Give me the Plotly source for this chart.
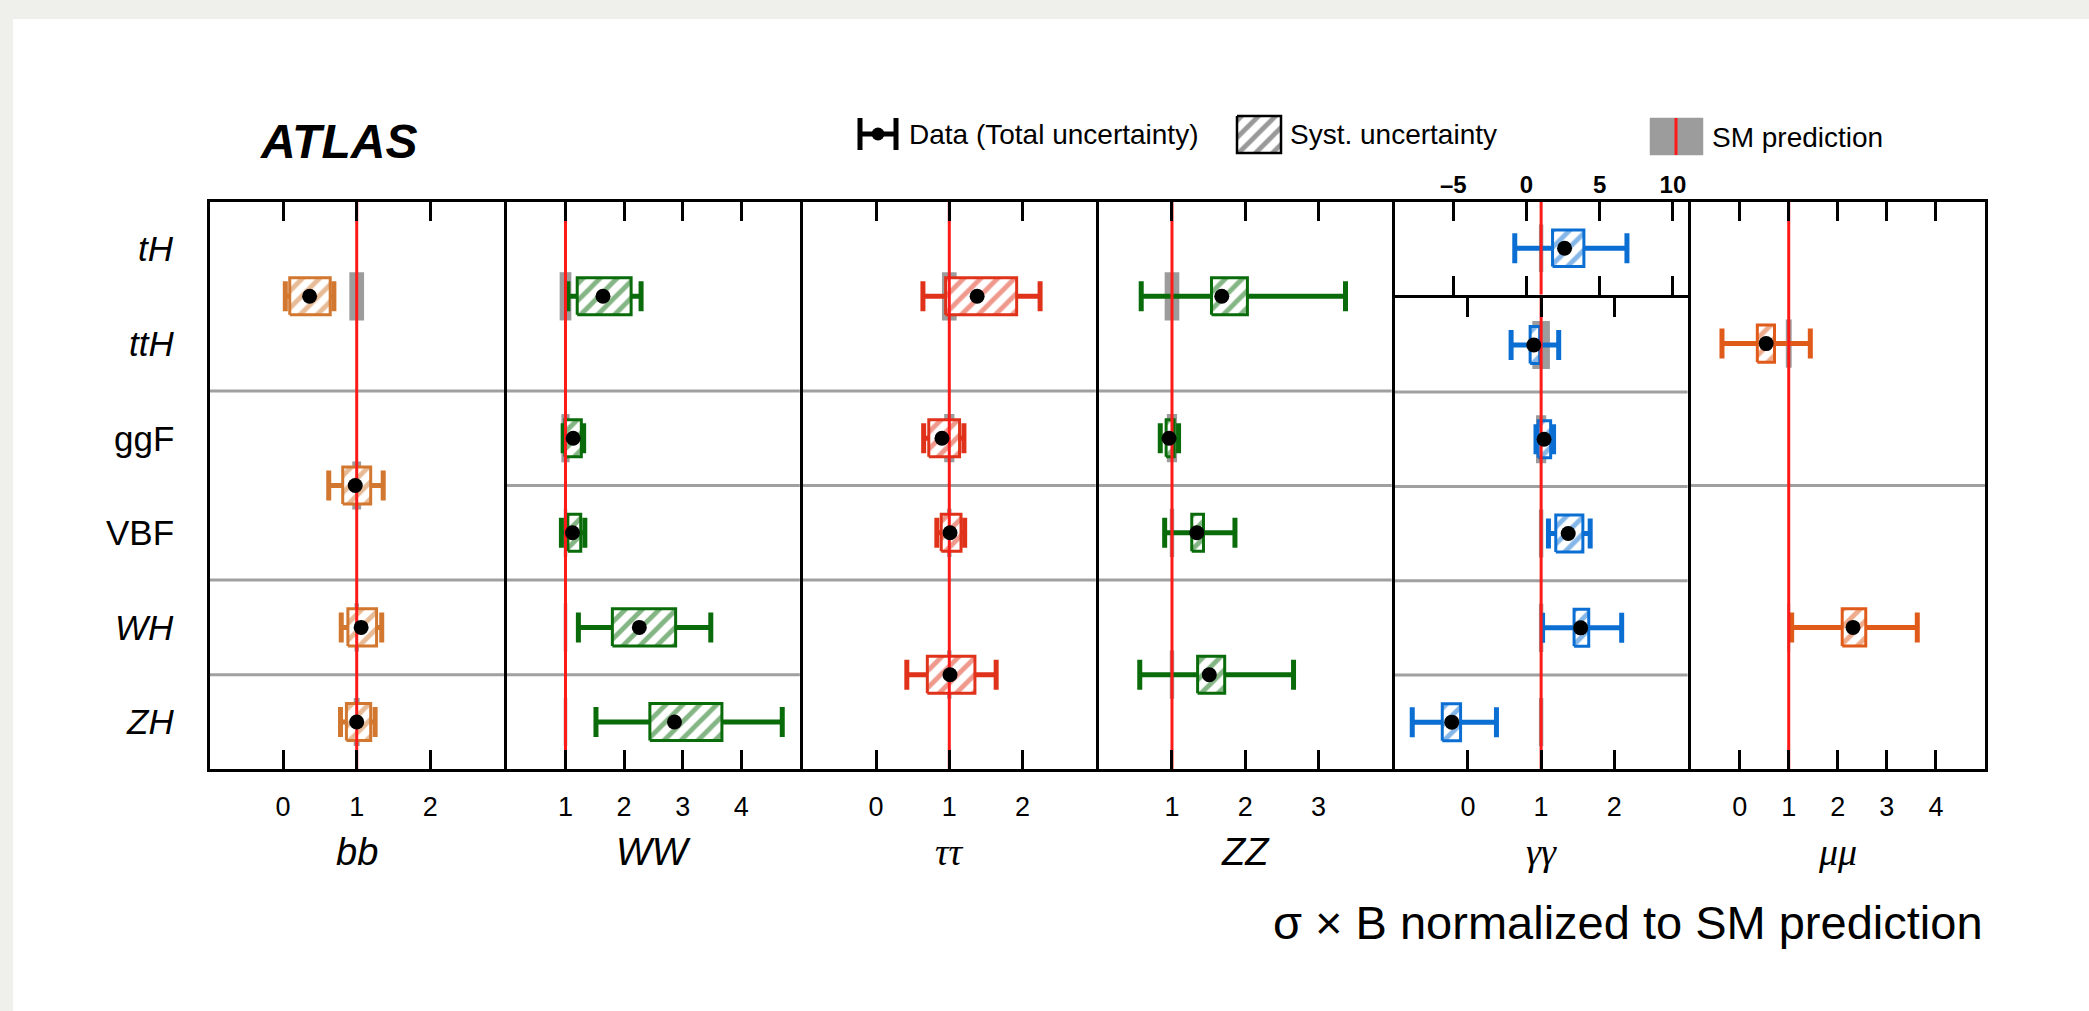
import plotly.graph_objects as go

W, H = 2089, 1011

# ---------------- data ----------------
ROWS = ["tH", "ttH", "ggF", "VBF", "WH", "ZH"]
ROW_ITALIC = [True, True, False, False, True, True]
SPANS = {"tH+ttH": ("tH", "ttH"), "ggF+VBF": ("ggF", "VBF"), "WH+ZH": ("WH", "ZH"),
         "ggF+ttH": ("tH", "ggF"), "VBF+VH": ("VBF", "ZH")}

CHANNELS = ["bb", "WW", "ττ", "ZZ", "γγ", "μμ"]

bb_cats = ["tH+ttH", "ggF+VBF", "WH", "ZH"]
bb_val = [0.36, 0.98, 1.06, 1.00]
bb_tot_lo = [0.03, 0.62, 0.79, 0.78]
bb_tot_hi = [0.69, 1.36, 1.34, 1.25]
bb_sys_lo = [0.09, 0.81, 0.88, 0.86]
bb_sys_hi = [0.64, 1.19, 1.27, 1.19]
bb_sm = [0.10, 0.06, 0.03, 0.04]

ww_cats = ["tH+ttH", "ggF", "VBF", "WH", "ZH"]
ww_val = [1.64, 1.13, 1.12, 2.26, 2.86]
ww_tot_lo = [1.04, 0.96, 0.93, 1.22, 1.52]
ww_tot_hi = [2.29, 1.31, 1.33, 3.48, 4.70]
ww_sys_lo = [1.20, 0.99, 1.04, 1.80, 2.44]
ww_sys_hi = [2.12, 1.27, 1.26, 2.88, 3.67]
ww_sm = [0.10, 0.07, 0.03, 0.03, 0.03]

tt_cats = ["tH+ttH", "ggF", "VBF", "WH+ZH"]
tt_val = [1.38, 0.90, 1.01, 1.01]
tt_tot_lo = [0.64, 0.65, 0.83, 0.42]
tt_tot_hi = [2.24, 1.20, 1.21, 1.64]
tt_sys_lo = [0.95, 0.72, 0.89, 0.70]
tt_sys_hi = [1.92, 1.14, 1.16, 1.35]
tt_sm = [0.10, 0.07, 0.03, 0.03]

zz_cats = ["tH+ttH", "ggF", "VBF", "WH+ZH"]
zz_val = [1.68, 0.96, 1.34, 1.51]
zz_tot_lo = [0.58, 0.84, 0.90, 0.56]
zz_tot_hi = [3.37, 1.09, 1.86, 2.66]
zz_sys_lo = [1.54, 0.92, 1.27, 1.35]
zz_sys_hi = [2.03, 1.03, 1.43, 1.72]
zz_sm = [0.10, 0.07, 0.03, 0.03]

gg_cats = ["ttH", "ggF", "VBF", "WH", "ZH"]
gg_val = [0.90, 1.04, 1.37, 1.54, -0.22]
gg_tot_lo = [0.59, 0.93, 1.10, 1.02, -0.76]
gg_tot_hi = [1.24, 1.17, 1.67, 2.10, 0.39]
gg_sys_lo = [0.85, 0.96, 1.20, 1.45, -0.35]
gg_sys_hi = [0.98, 1.13, 1.57, 1.65, -0.10]
gg_sm = [0.12, 0.07, 0.03, 0.03, 0.03]

# gamma-gamma tH (own axis)
ggth_cats = ["tH"]
ggth_val = [2.60]
ggth_tot_lo = [-0.80]
ggth_tot_hi = [6.86]
ggth_sys_lo = [1.78]
ggth_sys_hi = [3.92]
ggth_sm = [0.15]

mm_cats = ["ggF+ttH", "VBF+VH"]
mm_val = [0.54, 2.31]
mm_tot_lo = [-0.36, 1.06]
mm_tot_hi = [1.44, 3.62]
mm_sys_lo = [0.36, 2.09]
mm_sys_hi = [0.71, 2.57]
mm_sm = [0.06, 0.03]

RANGES = [[-1, 3], [0, 5], [-1, 3], [0, 4], [-1, 3], [-1, 5]]
TICKS = [[0, 1, 2], [1, 2, 3, 4], [0, 1, 2], [1, 2, 3], [0, 1, 2], [0, 1, 2, 3, 4]]
TH_RANGE = [-9, 11]
TH_TICKS = [-5, 0, 5, 10]
TH_TICKTEXT = ["–5", "0", "5", "10"]

COLORS = ["#d2772f", "#0a6b0a", "#e0321a", "#0a6b0a", "#0b6ed2", "#e05a1a"]
GRAY = "#9c9c9c"
RED = "#ff1a1a"
SANS = "Liberation Sans, Arial, Helvetica, sans-serif"
SERIF = "Liberation Serif, Times New Roman, serif"

panels = [
    (bb_cats, bb_val, bb_tot_lo, bb_tot_hi, bb_sys_lo, bb_sys_hi, bb_sm),
    (ww_cats, ww_val, ww_tot_lo, ww_tot_hi, ww_sys_lo, ww_sys_hi, ww_sm),
    (tt_cats, tt_val, tt_tot_lo, tt_tot_hi, tt_sys_lo, tt_sys_hi, tt_sm),
    (zz_cats, zz_val, zz_tot_lo, zz_tot_hi, zz_sys_lo, zz_sys_hi, zz_sm),
    (gg_cats, gg_val, gg_tot_lo, gg_tot_hi, gg_sys_lo, gg_sys_hi, gg_sm),
    (mm_cats, mm_val, mm_tot_lo, mm_tot_hi, mm_sys_lo, mm_sys_hi, mm_sm),
]

# ---------------- geometry ----------------
X_LEFT, X_RIGHT = 209.5, 1985.0
Y_TOP, Y_BOT = 201.7, 769.3
ROW_H = (Y_BOT - Y_TOP) / 6.0
PW = (X_RIGHT - X_LEFT) / 6.0
LW = 3
INS = LW / 2.0
BOX_HALF = 0.196
BAND_W = 0.51


def px_x(px):
    return px / W


def px_y(py):
    return 1 - py / H


def span(cat):
    first, last = SPANS.get(cat, (cat, cat))
    i0, i1 = ROWS.index(first), ROWS.index(last)
    return 6 - (i1 + 1), 6 - i0


def center(cat):
    b, t = span(cat)
    return (b + t) / 2.0


fig = go.Figure()
layout = dict(
    width=W, height=H, margin=dict(l=0, r=0, t=0, b=0), autosize=False,
    paper_bgcolor="#efefec", plot_bgcolor="rgba(0,0,0,0)",
    showlegend=False, barmode="overlay", hovermode=False,
)
shapes = [dict(type="rect", xref="paper", yref="paper", x0=13 / W, x1=1, y0=0, y1=1 - 19 / H,
               fillcolor="white", line=dict(width=0), layer="below")]
annotations = []


def hatch(col):
    return dict(shape="/", fgcolor=col, bgcolor="white", size=12, solidity=0.4, fillmode="overlay")


def add_series(cats, val, tlo, thi, slo, shi, sm, col, xa, ya, yrange):
    cen = [center(c) for c in cats]
    fig.add_trace(go.Bar(orientation="h", y=cen, base=[1 - u for u in sm], x=[2 * u for u in sm],
                         width=BAND_W, marker=dict(color=GRAY, line=dict(width=0)),
                         xaxis=xa, yaxis=ya, hoverinfo="skip"))
    fig.add_trace(go.Scatter(x=val, y=cen, mode="markers",
                             marker=dict(size=1, color="rgba(0,0,0,0)"),
                             error_x=dict(type="data", symmetric=False,
                                          array=[h - v for h, v in zip(thi, val)],
                                          arrayminus=[v - l for v, l in zip(val, tlo)],
                                          color=col, thickness=5, width=15),
                             xaxis=xa, yaxis=ya, hoverinfo="skip"))
    bx, by = [], []
    for c, l, h in zip(cen, slo, shi):
        bx += [l, h, h, l, l, None]
        by += [c - BOX_HALF, c - BOX_HALF, c + BOX_HALF, c + BOX_HALF, c - BOX_HALF, None]
    fig.add_trace(go.Scatter(x=bx, y=by, mode="lines", fill="toself", fillcolor="white",
                             fillpattern=hatch(col),
                             line=dict(color=col, width=3), xaxis=xa, yaxis=ya, hoverinfo="skip"))
    fig.add_trace(go.Scatter(x=[1, 1], y=yrange, mode="lines", line=dict(color=RED, width=3),
                             xaxis=xa, yaxis=ya, hoverinfo="skip"))
    fig.add_trace(go.Scatter(x=val, y=cen, mode="markers", marker=dict(size=15, color="black"),
                             xaxis=xa, yaxis=ya, hoverinfo="skip"))
    for c in cats[:-1]:
        b, _ = span(c)
        shapes.append(dict(type="line", xref=f"{xa} domain", yref=ya, x0=0, x1=1, y0=b, y1=b,
                           line=dict(color="#a0a0a0", width=3), layer="below"))


y_dom_full = [px_y(Y_BOT), px_y(Y_TOP)]
Y_MID = Y_TOP + ROW_H

for k in range(6):
    s = "" if k == 0 else str(k + 1)
    xa, ya = "x" + s, "y" + s
    left_px = X_LEFT + k * PW + (INS if k > 0 else 0)
    right_px = X_LEFT + (k + 1) * PW - (INS if k < 5 else 0)
    x0, x1 = px_x(left_px), px_x(right_px)
    if k == 4:
        ydom, yr = [y_dom_full[0], px_y(Y_MID + INS)], [0, 5]
    else:
        ydom, yr = y_dom_full, [0, 6]
    layout["xaxis" + s] = dict(
        domain=[x0, x1], range=RANGES[k], anchor=ya, showline=True, linecolor="black", linewidth=LW,
        mirror="ticks", ticks="inside", ticklen=19, tickwidth=2.5, tickcolor="black",
        tickvals=TICKS[k], ticktext=[str(t) for t in TICKS[k]],
        tickfont=dict(family=SANS, size=27, color="black"), ticklabelstandoff=11,
        showgrid=False, zeroline=False, fixedrange=True)
    layout["yaxis" + s] = dict(
        domain=ydom, range=yr, anchor=xa, showline=True, mirror=True, linecolor="black",
        linewidth=LW, ticks="", showticklabels=False, showgrid=False, zeroline=False, fixedrange=True)
    cats, val, tlo, thi, slo, shi, sm = panels[k]
    add_series(cats, val, tlo, thi, slo, shi, sm, COLORS[k], xa, ya, yr)
    fam = SERIF if any(ch in CHANNELS[k] for ch in "τγμ") else SANS
    annotations.append(dict(text=f"<i>{CHANNELS[k]}</i>", xref="paper", yref="paper",
                            x=px_x((X_LEFT + k * PW + X_LEFT + (k + 1) * PW) / 2), y=px_y(852),
                            xanchor="center", yanchor="middle",
                            showarrow=False, font=dict(family=fam, size=38, color="black")))

# gamma-gamma tH sub-panel
x0 = px_x(X_LEFT + 4 * PW + INS)
x1 = px_x(X_LEFT + 5 * PW - INS)
layout["xaxis7"] = dict(
    domain=[x0, x1], range=TH_RANGE, anchor="y7", side="top", showline=True, linecolor="black",
    linewidth=LW, mirror="ticks", ticks="inside", ticklen=19, tickwidth=2.5, tickcolor="black",
    tickvals=TH_TICKS, ticktext=TH_TICKTEXT,
    tickfont=dict(family=SANS, size=24, color="black", weight="bold"), ticklabelstandoff=-4,
    showgrid=False, zeroline=False, fixedrange=True)
layout["yaxis7"] = dict(
    domain=[px_y(Y_MID - INS), y_dom_full[1]], range=[5, 6], anchor="x7", showline=True, mirror=True,
    linecolor="black", linewidth=LW, ticks="", showticklabels=False, showgrid=False,
    zeroline=False, fixedrange=True)
add_series(ggth_cats, ggth_val, ggth_tot_lo, ggth_tot_hi, ggth_sys_lo, ggth_sys_hi, ggth_sm,
           COLORS[4], "x7", "y7", [5, 6])

# overlay axis for legend symbols (pixel coordinates)
layout["xaxis8"] = dict(domain=[0, 1], range=[0, W], anchor="y8", visible=False, fixedrange=True)
layout["yaxis8"] = dict(domain=[0, 1], range=[H, 0], anchor="x8", visible=False, fixedrange=True)

fig.add_trace(go.Scatter(x=[878], y=[134], mode="markers", marker=dict(size=13, color="black"),
                         error_x=dict(type="data", array=[18], color="black", thickness=5, width=16),
                         xaxis="x8", yaxis="y8", hoverinfo="skip"))
fig.add_trace(go.Scatter(x=[1237, 1281, 1281, 1237, 1237], y=[116, 116, 153, 153, 116], mode="lines",
                         fill="toself", fillcolor="white", fillpattern=hatch("#333333"),
                         line=dict(color="black", width=2.5), xaxis="x8", yaxis="y8", hoverinfo="skip"))
fig.add_trace(go.Scatter(x=[1650, 1703, 1703, 1650, 1650], y=[118, 118, 155, 155, 118], mode="lines",
                         fill="toself", fillcolor=GRAY, line=dict(color=GRAY, width=0.5),
                         xaxis="x8", yaxis="y8", hoverinfo="skip"))
fig.add_trace(go.Scatter(x=[1676, 1676], y=[118, 155], mode="lines", line=dict(color=RED, width=3),
                         xaxis="x8", yaxis="y8", hoverinfo="skip"))

legend_texts = [("Data (Total uncertainty)", 907, 134), ("Syst. uncertainty", 1288, 134),
                ("SM prediction", 1710, 137)]
for t, px, py in legend_texts:
    annotations.append(dict(text=t, xref="paper", yref="paper", x=px_x(px), y=px_y(py),
                            xanchor="left", yanchor="middle", showarrow=False,
                            font=dict(family=SANS, size=28, color="black")))

for r, it in zip(ROWS, ROW_ITALIC):
    annotations.append(dict(text=f"<i>{r}</i>" if it else r, xref="paper", yref="y",
                            x=px_x(176), y=center(r), xanchor="right", yanchor="middle",
                            showarrow=False, font=dict(family=SANS, size=35, color="black")))

annotations.append(dict(text="<b><i>ATLAS</i></b>", xref="paper", yref="paper", x=px_x(258),
                        y=px_y(141), xanchor="left", yanchor="middle", showarrow=False,
                        font=dict(family=SANS, size=48, color="black")))
annotations.append(dict(text="σ × B normalized to SM prediction", xref="paper", yref="paper",
                        x=px_x(1985), y=px_y(922), xanchor="right", yanchor="middle",
                        showarrow=False, font=dict(family=SANS, size=47, color="black")))

layout["shapes"] = shapes
layout["annotations"] = annotations
fig.update_layout(**layout)
fig.write_html("out.html", config={"displayModeBar": False})
